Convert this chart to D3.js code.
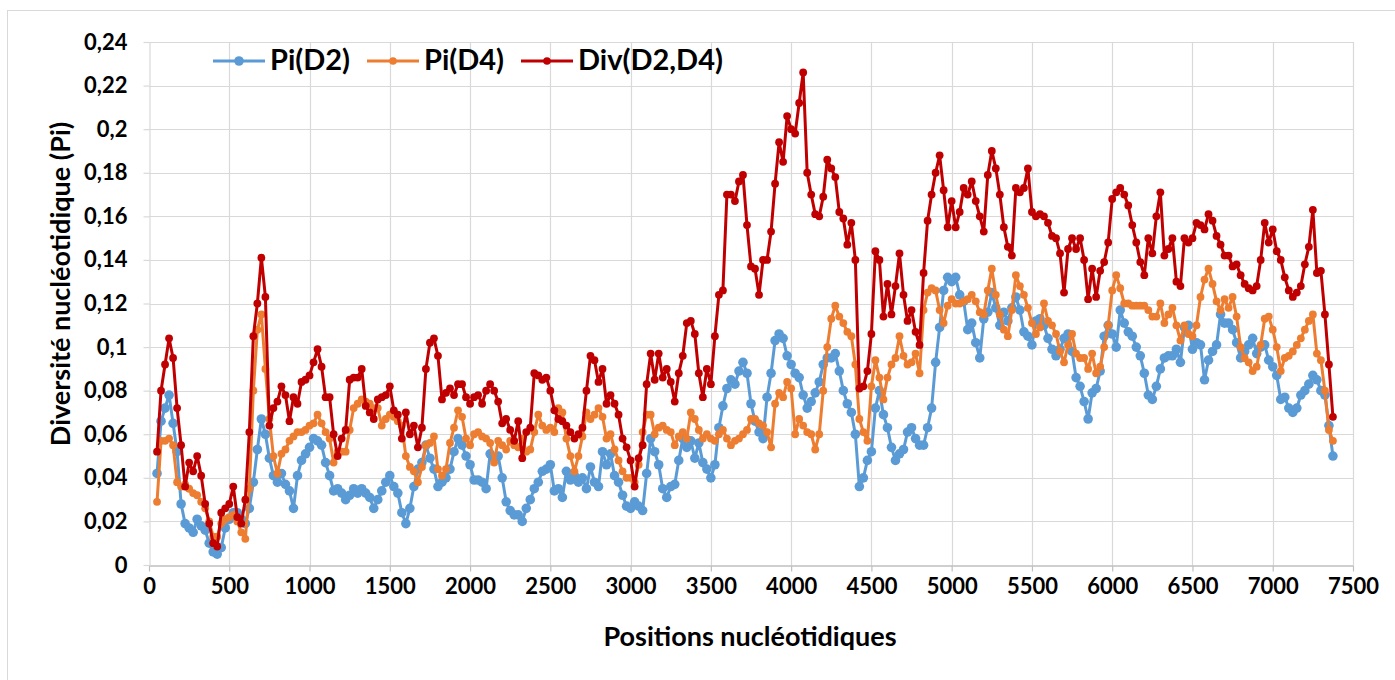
<!DOCTYPE html>
<html>
<head>
<meta charset="utf-8">
<script src="https://cdn.jsdelivr.net/npm/d3@7"></script>
<style>
  body { margin: 0; background: #fff; }
  svg { display: block; }
  text { font-family: Lato, "Open Sans", sans-serif; font-weight: 700; fill: #000; }
</style>
</head>
<body>
<svg id="chart" width="1395" height="680"></svg>
<script>
// Sliding-window scan: first window centre and step between windows (nucleotides)
const windowStart = 50;
const windowStep = 25;

// Nucleotide diversity of population D2, one value per window
const piD2 = [
  0.042, 0.066, 0.072, 0.078, 0.065, 0.052, 0.028, 0.019, 0.017, 0.015,
  0.021, 0.018, 0.016, 0.010, 0.006, 0.005, 0.008, 0.017, 0.021, 0.024,
  0.024, 0.021, 0.019, 0.026, 0.038, 0.053, 0.067, 0.060, 0.049, 0.041,
  0.038, 0.042, 0.037, 0.034, 0.026, 0.041, 0.048, 0.051, 0.054, 0.058,
  0.057, 0.055, 0.047, 0.041, 0.034, 0.035, 0.033, 0.030, 0.032,
  0.035, 0.033, 0.035, 0.033, 0.031, 0.026, 0.030, 0.034, 0.038, 0.041,
  0.036, 0.033, 0.024, 0.019, 0.026, 0.036, 0.044, 0.047, 0.055, 0.049,
  0.044, 0.036, 0.038, 0.040, 0.044, 0.052, 0.058, 0.055, 0.050, 0.046,
  0.039, 0.039, 0.038, 0.035, 0.051, 0.049, 0.050, 0.040, 0.029, 0.025,
  0.023, 0.023, 0.020, 0.026, 0.030, 0.035, 0.038, 0.043, 0.044, 0.046,
  0.034, 0.035, 0.031, 0.043, 0.039, 0.041, 0.038, 0.040, 0.035, 0.045,
  0.038, 0.036, 0.052, 0.046, 0.051, 0.041, 0.038, 0.032, 0.027, 0.026,
  0.029, 0.027, 0.025, 0.042, 0.058, 0.052, 0.046, 0.035, 0.031, 0.036,
  0.037, 0.048, 0.058, 0.054, 0.057, 0.049, 0.056, 0.047, 0.044, 0.040,
  0.046, 0.063, 0.073, 0.081, 0.085, 0.083, 0.089, 0.093, 0.088,
  0.074, 0.066, 0.061, 0.058, 0.077, 0.088, 0.103, 0.106, 0.104, 0.096,
  0.092, 0.088, 0.086, 0.078, 0.072, 0.075, 0.079, 0.084, 0.092, 0.095,
  0.095, 0.097, 0.089, 0.080, 0.074, 0.070, 0.060, 0.036, 0.040, 0.048,
  0.052, 0.072, 0.080, 0.069, 0.063, 0.054, 0.048, 0.051, 0.053, 0.061,
  0.063, 0.058, 0.055, 0.055, 0.063, 0.072, 0.093, 0.109, 0.126, 0.132,
  0.130, 0.132, 0.124, 0.121, 0.108, 0.111, 0.102, 0.095, 0.113, 0.116,
  0.125, 0.118, 0.110, 0.116, 0.112, 0.118, 0.123, 0.117, 0.107, 0.105,
  0.101, 0.112, 0.113, 0.110, 0.104, 0.099, 0.096, 0.099, 0.104, 0.106,
  0.098, 0.086, 0.082, 0.075, 0.067, 0.079, 0.081, 0.089, 0.105, 0.110,
  0.106, 0.100, 0.117, 0.111, 0.107, 0.105, 0.100, 0.096, 0.088, 0.078,
  0.076, 0.082, 0.090, 0.095, 0.096, 0.096, 0.099, 0.093, 0.109, 0.110,
  0.099, 0.102, 0.101, 0.085, 0.094, 0.098, 0.101, 0.115, 0.111, 0.111,
  0.108, 0.102, 0.095, 0.098, 0.101, 0.104, 0.097, 0.100, 0.101, 0.094,
  0.091, 0.087, 0.076, 0.077, 0.072, 0.070, 0.072, 0.078, 0.080, 0.083,
  0.087, 0.085, 0.080, 0.078, 0.064, 0.050
];

// Nucleotide diversity of population D4
const piD4 = [
  0.029, 0.057, 0.057, 0.058, 0.055, 0.038, 0.036, 0.037, 0.035, 0.033,
  0.032, 0.029, 0.026, 0.020, 0.013, 0.013, 0.019, 0.021, 0.022, 0.023,
  0.020, 0.015, 0.012, 0.035, 0.080, 0.108, 0.115, 0.090, 0.067, 0.050,
  0.042, 0.051, 0.053, 0.057, 0.059, 0.061, 0.061, 0.062, 0.064, 0.065,
  0.069, 0.065, 0.061, 0.058, 0.047, 0.052, 0.052, 0.052, 0.062,
  0.072, 0.074, 0.076, 0.075, 0.074, 0.072, 0.072, 0.064, 0.067, 0.069,
  0.068, 0.066, 0.064, 0.050, 0.045, 0.043, 0.038, 0.045, 0.055, 0.056,
  0.059, 0.044, 0.041, 0.044, 0.056, 0.063, 0.071, 0.068, 0.058, 0.055,
  0.060, 0.061, 0.059, 0.058, 0.056, 0.047, 0.057, 0.055, 0.053, 0.057,
  0.055, 0.054, 0.058, 0.052, 0.053, 0.061, 0.069, 0.064, 0.062, 0.063,
  0.061, 0.072, 0.070, 0.058, 0.050, 0.043, 0.050, 0.059, 0.070, 0.067,
  0.069, 0.072, 0.068, 0.058, 0.060, 0.053, 0.048, 0.043, 0.040, 0.040,
  0.038, 0.046, 0.061, 0.069, 0.069, 0.060, 0.063, 0.064, 0.062, 0.061,
  0.055, 0.059, 0.061, 0.058, 0.070, 0.067, 0.062, 0.058, 0.060, 0.058,
  0.057, 0.060, 0.062, 0.058, 0.055, 0.057, 0.058, 0.060, 0.062,
  0.067, 0.067, 0.065, 0.064, 0.061, 0.054, 0.074, 0.079, 0.077, 0.084,
  0.081, 0.060, 0.067, 0.064, 0.061, 0.060, 0.053, 0.060, 0.080, 0.100,
  0.113, 0.119, 0.114, 0.111, 0.107, 0.105, 0.092, 0.067, 0.061, 0.057,
  0.082, 0.094, 0.086, 0.076, 0.086, 0.092, 0.095, 0.105, 0.096, 0.092,
  0.093, 0.097, 0.088, 0.117, 0.125, 0.127, 0.126, 0.117, 0.111, 0.119,
  0.122, 0.120, 0.120, 0.121, 0.122, 0.124, 0.121, 0.116, 0.115, 0.126,
  0.136, 0.124, 0.115, 0.108, 0.105, 0.117, 0.133, 0.128, 0.124, 0.118,
  0.111, 0.106, 0.109, 0.120, 0.112, 0.110, 0.106, 0.098, 0.093, 0.101,
  0.106, 0.097, 0.095, 0.095, 0.090, 0.097, 0.088, 0.091, 0.100, 0.110,
  0.126, 0.133, 0.127, 0.120, 0.120, 0.119, 0.119, 0.119, 0.119, 0.117,
  0.114, 0.114, 0.120, 0.111, 0.115, 0.118, 0.110, 0.103, 0.110, 0.106,
  0.105, 0.110, 0.123, 0.131, 0.136, 0.129, 0.121, 0.117, 0.122, 0.118,
  0.123, 0.114, 0.100, 0.095, 0.093, 0.089, 0.091, 0.101, 0.113, 0.114,
  0.108, 0.100, 0.089, 0.095, 0.096, 0.098, 0.101, 0.104, 0.108, 0.112,
  0.115, 0.097, 0.094, 0.080, 0.062, 0.057
];

// Divergence between D2 and D4
const divD2D4 = [
  0.052, 0.080, 0.092, 0.104, 0.095, 0.072, 0.055, 0.036, 0.047, 0.043,
  0.050, 0.041, 0.028, 0.019, 0.010, 0.0085, 0.024, 0.026, 0.028, 0.036,
  0.022, 0.019, 0.030, 0.061, 0.105, 0.120, 0.141, 0.123, 0.064, 0.072,
  0.075, 0.082, 0.078, 0.066, 0.077, 0.074, 0.084, 0.085, 0.087, 0.093,
  0.099, 0.091, 0.077, 0.077, 0.060, 0.050, 0.058, 0.062, 0.085,
  0.086, 0.086, 0.090, 0.073, 0.070, 0.067, 0.076, 0.077, 0.078, 0.082,
  0.071, 0.069, 0.058, 0.070, 0.060, 0.064, 0.054, 0.063, 0.090, 0.102,
  0.104, 0.096, 0.076, 0.079, 0.081, 0.078, 0.083, 0.083, 0.077, 0.074,
  0.077, 0.078, 0.074, 0.080, 0.083, 0.080, 0.075, 0.065, 0.067, 0.062,
  0.057, 0.066, 0.049, 0.061, 0.063, 0.088, 0.087, 0.085, 0.086, 0.080,
  0.071, 0.067, 0.066, 0.064, 0.061, 0.058, 0.060, 0.063, 0.080, 0.096,
  0.094, 0.084, 0.090, 0.074, 0.078, 0.074, 0.069, 0.058, 0.054, 0.048,
  0.036, 0.049, 0.055, 0.083, 0.097, 0.085, 0.097, 0.086, 0.090, 0.084,
  0.075, 0.088, 0.096, 0.111, 0.112, 0.106, 0.088, 0.077, 0.090, 0.083,
  0.105, 0.124, 0.126, 0.170, 0.170, 0.167, 0.176, 0.179, 0.156,
  0.137, 0.136, 0.124, 0.140, 0.140, 0.153, 0.175, 0.194, 0.185, 0.206,
  0.200, 0.198, 0.212, 0.226, 0.180, 0.170, 0.161, 0.160, 0.169, 0.186,
  0.182, 0.178, 0.162, 0.159, 0.147, 0.157, 0.140, 0.081, 0.082, 0.089,
  0.106, 0.144, 0.140, 0.114, 0.129, 0.115, 0.128, 0.143, 0.124, 0.112,
  0.117, 0.107, 0.101, 0.134, 0.158, 0.170, 0.180, 0.188, 0.172, 0.155,
  0.167, 0.155, 0.162, 0.173, 0.170, 0.176, 0.167, 0.160, 0.153, 0.179,
  0.190, 0.182, 0.170, 0.155, 0.146, 0.142, 0.173, 0.171, 0.173, 0.182,
  0.162, 0.160, 0.161, 0.160, 0.157, 0.151, 0.150, 0.143, 0.125, 0.145,
  0.150, 0.145, 0.150, 0.140, 0.122, 0.136, 0.123, 0.135, 0.139, 0.148,
  0.168, 0.171, 0.173, 0.170, 0.165, 0.156, 0.148, 0.139, 0.133, 0.150,
  0.143, 0.160, 0.171, 0.142, 0.145, 0.150, 0.130, 0.128, 0.150, 0.148,
  0.150, 0.157, 0.156, 0.154, 0.161, 0.158, 0.151, 0.147, 0.142, 0.142,
  0.137, 0.138, 0.133, 0.129, 0.127, 0.126, 0.128, 0.140, 0.157, 0.148,
  0.154, 0.144, 0.140, 0.132, 0.126, 0.123, 0.125, 0.128, 0.138, 0.146,
  0.163, 0.134, 0.135, 0.115, 0.092, 0.068
];

const xTickValues = [0, 500, 1000, 1500, 2000, 2500, 3000, 3500, 4000, 4500, 5000, 5500, 6000, 6500, 7000, 7500];
const yTickValues = [0, 0.02, 0.04, 0.06, 0.08, 0.1, 0.12, 0.14, 0.16, 0.18, 0.2, 0.22, 0.24];

const seriesNames = ["Pi(D2)", "Pi(D4)", "Div(D2,D4)"];
const seriesColors = ["#5b9bd5", "#ed7d31", "#c00000"];
const markerRadius = [4.8, 3.9, 3.9];

const positions = piD2.map((_, i) => windowStart + i * windowStep);

const svg = d3.select("#chart");
const plot = { left: 149, right: 1353, top: 42, bottom: 565 };

const x = d3.scaleLinear().domain([0, 7500]).range([plot.left, plot.right]);
const y = d3.scaleLinear().domain([0, 0.24]).range([plot.bottom, plot.top]);

// chart frame
svg.append("rect")
  .attr("x", 7.5).attr("y", 10.5)
  .attr("width", 1400).attr("height", 700)
  .attr("fill", "#fff").attr("stroke", "#d9d9d9").attr("stroke-width", 1);

// gridlines
const grid = svg.append("g");
grid.selectAll("line.h").data(yTickValues.filter(v => v > 0)).join("line")
  .attr("x1", plot.left).attr("x2", plot.right)
  .attr("y1", d => Math.round(y(d)) + 0.5).attr("y2", d => Math.round(y(d)) + 0.5)
  .attr("stroke", "#d9d9d9").attr("stroke-width", 1.2);
grid.selectAll("line.v").data(xTickValues.filter(v => v > 0)).join("line")
  .attr("x1", d => Math.round(x(d)) + 0.5).attr("x2", d => Math.round(x(d)) + 0.5)
  .attr("y1", plot.top).attr("y2", plot.bottom)
  .attr("stroke", "#d9d9d9").attr("stroke-width", 1.2);

const fmt = v => String(+v.toFixed(2)).replace(".", ",");
const tickFont = sel => sel.attr("font-size", 22).attr("fill", "#000")
  .style("font-family", 'Lato, "Open Sans", sans-serif').style("font-weight", 700);

// axes
const xAxis = svg.append("g")
  .attr("transform", `translate(0,${plot.bottom + 0.5})`)
  .call(d3.axisBottom(x).tickValues(xTickValues).tickSize(6).tickPadding(7).tickSizeOuter(0).tickFormat(d => d));
xAxis.select(".domain").attr("stroke", "#bfbfbf").attr("stroke-width", 1.5);
xAxis.selectAll(".tick line").attr("stroke", "#bfbfbf").attr("stroke-width", 1.2);
xAxis.selectAll("text").call(tickFont);

const yAxis = svg.append("g")
  .attr("transform", `translate(${plot.left + 0.5},0)`)
  .call(d3.axisLeft(y).tickValues(yTickValues).tickSize(6).tickPadding(16).tickSizeOuter(0).tickFormat(fmt));
yAxis.select(".domain").attr("stroke", "#d9d9d9").attr("stroke-width", 1.2);
yAxis.selectAll(".tick line").attr("stroke", "#d9d9d9").attr("stroke-width", 1.2);
yAxis.selectAll("text").call(tickFont);

// axis titles
svg.append("text")
  .attr("x", 750).attr("y", 646)
  .attr("text-anchor", "middle").attr("font-size", 27)
  .text("Positions nucléotidiques");
svg.append("text")
  .attr("transform", "translate(70,284) rotate(-90)")
  .attr("text-anchor", "middle").attr("font-size", 27)
  .text("Diversité nucléotidique (Pi)");

// series
const allSeries = [piD2, piD4, divD2D4];
const line = d3.line().x((d, i) => x(positions[i])).y(d => y(d));

allSeries.forEach((values, k) => {
  const g = svg.append("g");
  g.append("path")
    .datum(values)
    .attr("d", line)
    .attr("fill", "none")
    .attr("stroke", seriesColors[k])
    .attr("stroke-width", 3)
    .attr("stroke-linejoin", "round");
  g.selectAll("circle").data(values).join("circle")
    .attr("cx", (d, i) => x(positions[i]))
    .attr("cy", d => y(d))
    .attr("r", markerRadius[k])
    .attr("fill", seriesColors[k]);
});

// legend
const legendItems = [
  { x0: 213, x1: 265, tx: 270 },
  { x0: 367, x1: 419, tx: 424 },
  { x0: 521, x1: 573, tx: 578 }
];
const legend = svg.append("g");
legendItems.forEach((it, k) => {
  legend.append("line")
    .attr("x1", it.x0).attr("x2", it.x1).attr("y1", 61).attr("y2", 61)
    .attr("stroke", seriesColors[k]).attr("stroke-width", 3);
  legend.append("circle")
    .attr("cx", (it.x0 + it.x1) / 2).attr("cy", 61).attr("r", k === 0 ? 4.8 : 3.8)
    .attr("fill", seriesColors[k]);
  legend.append("text")
    .attr("x", it.tx).attr("y", 70)
    .attr("font-size", 29)
    .text(seriesNames[k]);
});
</script>
</body>
</html>
